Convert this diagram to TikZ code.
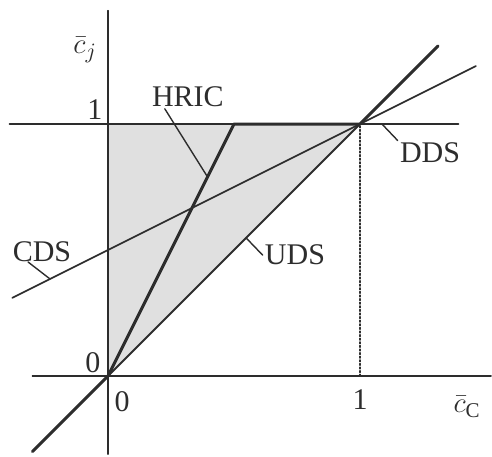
\documentclass[tikz,border=0pt]{standalone}
\usepackage{fontspec}
\setmainfont{Liberation Serif}

\definecolor{inkgray}{RGB}{45,45,45}
\definecolor{regiongray}{RGB}{224,224,224}

\begin{document}
\begin{tikzpicture}[x=126pt,y=126pt,line cap=round,line join=round,
    font=\fontsize{15}{18}\selectfont,
    thinline/.style={inkgray,line width=0.8pt},
    thickline/.style={inkgray,line width=1.5pt},
    leader/.style={inkgray,line width=0.7pt},
    lbl/.style={inkgray,inner sep=1pt}]
        \useasboundingbox (-0.4286,-0.3175) rectangle (1.5238,1.4921);

        % Zona acotada (criterio de acotamiento)
        \fill[regiongray] (0,0) -- (0,1) -- (1,1) -- cycle;

        % Ejes
        \draw[thinline] (-0.30,0) -- (1.52,0);
        \draw[thinline] (0,-0.31) -- (0,1.45);
        \draw[thinline,densely dotted] (1,0) -- (1,1);

        %----------------------------------------------------------
        % Esquemas
        \draw[thinline,line width=1pt] (-0.39,1) -- (1.39,1);
        \draw[thinline] (-0.38,0.31) -- (1.46,1.23);
        \draw[thinline,line width=1pt] (0,0) -- (1,1);
        \draw[thickline] (-0.30,-0.30) -- (0,0) -- (0.5,1) -- (1,1)
            -- (1.31,1.31);

        % Puntos sobre las curvas
        \coordinate (hricpt) at (0.395,0.79);
        \coordinate (ddspt) at (1.087,1.0);
        \coordinate (cdspt) at (-0.23,0.385);
        \coordinate (udspt) at (0.548,0.548);

        %----------------------------------------------------------
        % Rótulos
        \node[lbl] (hric) at (0.317,1.110) {HRIC};
        \node[lbl] (dds) at (1.278,0.885) {DDS};
        \node[lbl] (cds) at (-0.262,0.492) {CDS};
        \node[lbl] (uds) at (0.742,0.480) {UDS};

        \draw[leader] (hric.south west) ++(0.06,0) coordinate (hricend)
            -- (hricpt);
        \draw[leader] (ddspt) -- (dds.north west);
        \draw[leader] (cds.south west) ++(0.07,0.01) coordinate (cdsend)
            -- (cdspt);
        \draw[leader] (udspt) -- (uds.west);

        % Valores y variables de los ejes
        \node[lbl] (yone) at (-0.052,1.056) {1};
        \node[lbl] (yzero) at (-0.060,0.052) {0};
        \node[lbl] (xzero) at (0.056,-0.103) {0};
        \node[lbl] (xone) at (1.0,-0.095) {1};
        \node[lbl] (ylabel) at (-0.091,1.294) {$\bar c_j$};
        \node[lbl] (xlabel) at (1.425,-0.123) {$\bar c_{\mathrm{C}}$};
    \end{tikzpicture}
\end{document}
